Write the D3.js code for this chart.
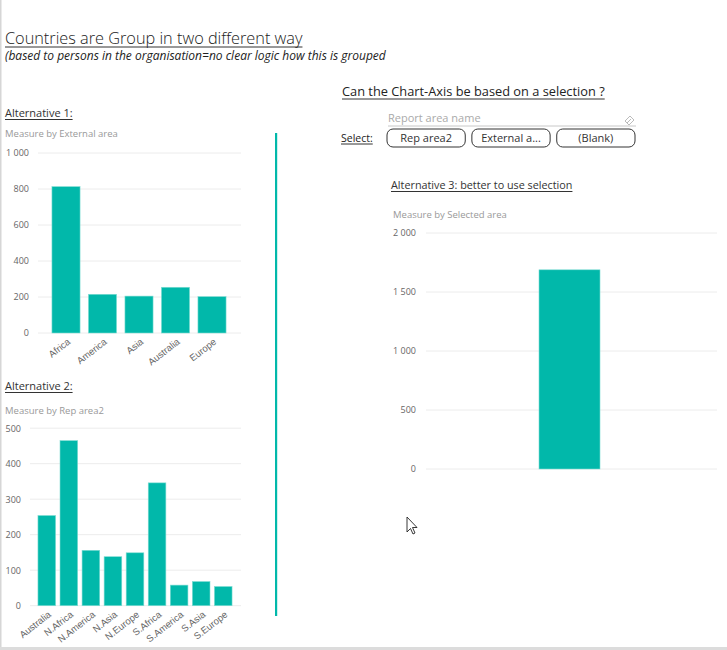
<!DOCTYPE html>
<html><head><meta charset="utf-8">
<script src="https://cdn.jsdelivr.net/npm/d3@7"></script>
<style>
body{margin:0;background:#fff;}
svg{display:block;font-family:"Open Sans","Noto Sans",sans-serif;}
</style></head>
<body><svg id="c" width="727" height="650"></svg>
<script>
// ---- data ----
const extCategories = ["Africa","America","Asia","Australia","Europe"];
const extValues = [813,215,205,254,202];
const extTicks = [0,200,400,600,800,1000];

const repCategories = ["Australia","N.Africa","N.America","N.Asia","N.Europe","S.Africa","S.America","S.Asia","S.Europe"];
const repValues = [254,465,156,138,149,346,58,68,54];
const repTicks = [0,100,200,300,400,500];

const selCategories = ["(Selected)"];
const selValues = [1688];
const selTicks = [0,500,1000,1500,2000];

const slicerButtons = ["Rep area2","External a...","(Blank)"];

// ---- drawing ----
const TEAL = "#01B8AA";
const svg = d3.select("#c");
const loc = d3.formatLocale({decimal:",",thousands:"\u00a0",grouping:[3],currency:["",""]});
const fmt = loc.format(",d");

// frame borders
svg.append("rect").attr("x",0).attr("y",0).attr("width",1.5).attr("height",650).attr("fill","#d6d6d6");
svg.append("rect").attr("x",0).attr("y",647).attr("width",727).attr("height",3).attr("fill","#dcdcdc");

function uText(x,y,txt,size,opts={}){
  const t = svg.append("text").attr("x",x).attr("y",y).text(txt)
    .attr("font-size",size).attr("fill",opts.fill||"#222")
    .style("font-style",opts.italic?"italic":"normal")
    .attr("font-weight",opts.weight||300);
  if(opts.underline){
    const w = t.node().getComputedTextLength();
    svg.append("line").attr("x1",x).attr("x2",x+w).attr("y1",y+opts.uoff).attr("y2",y+opts.uoff)
      .attr("stroke",opts.ucol||"#333").attr("stroke-width",opts.uw||1);
  }
  return t;
}

uText(5,44,"Countries are Group in two different way",16.3,{underline:true,uoff:3,weight:300,fill:"#222"});
uText(5,60,"(based to persons in the organisation=no clear logic how this is grouped",12,{italic:true,weight:400,fill:"#222"});

function barChart(cfg){
  const g = svg.append("g");
  const y = d3.scaleLinear().domain([0,d3.max(cfg.ticks)]).range([cfg.y0,cfg.y1]);
  const x = d3.scaleBand().domain(cfg.cats).range([cfg.bx0,cfg.bx1]).paddingInner(cfg.pi).paddingOuter(cfg.po);
  // gridlines
  g.selectAll("line.grid").data(cfg.ticks).join("line")
    .attr("x1",cfg.gx0).attr("x2",cfg.gx1).attr("y1",d=>y(d)).attr("y2",d=>y(d))
    .attr("stroke","#ececec").attr("stroke-width",1);
  // y labels
  const ya = d3.axisLeft(y).tickValues(cfg.ticks).tickFormat(fmt).tickSize(0).tickPadding(0);
  const yg = g.append("g").attr("transform",`translate(${cfg.lx},0)`).call(ya);
  yg.select(".domain").remove();
  yg.selectAll("text").attr("font-size",cfg.fs).attr("fill","#666").attr("font-family","Open Sans, sans-serif");
  // bars
  g.selectAll("rect.bar").data(cfg.vals).join("rect")
    .attr("x",(d,i)=>x(cfg.cats[i])).attr("width",x.bandwidth())
    .attr("y",d=>y(d)).attr("height",d=>cfg.y0-y(d)).attr("fill",TEAL)
    .attr("stroke","#7fdcd3").attr("stroke-width",0.6);
  // x labels
  if(cfg.showX){
    const xa = d3.axisBottom(x).tickSize(0).tickPadding(0);
    const xg = g.append("g").attr("transform",`translate(0,${cfg.y0})`).call(xa);
    xg.select(".domain").remove();
    xg.selectAll("text").attr("font-size",cfg.xfs).attr("fill","#666")
      .attr("text-anchor","end").attr("dy",0)
      .attr("transform",`translate(${cfg.xo},${cfg.yo}) rotate(-38)`);
  }
  return g;
}

// Alternative 1
uText(5,117,"Alternative 1:",11,{underline:true,uoff:2.5,weight:400,fill:"#333"});
svg.append("text").attr("x",5).attr("y",137).text("Measure by External area").attr("font-size",9.5).attr("fill","#999");
barChart({cats:extCategories,vals:extValues,ticks:extTicks,y0:333,y1:153,bx0:47.75,bx1:230.25,pi:0.23,po:0.115,
  gx0:38,gx1:241,lx:29,fs:9,xfs:9.5,showX:true,xo:5,yo:10});

// Alternative 2
uText(5,390,"Alternative 2:",11,{underline:true,uoff:2.5,weight:400,fill:"#333"});
svg.append("text").attr("x",5).attr("y",414).text("Measure by Rep area2").attr("font-size",9.5).attr("fill","#999");
barChart({cats:repCategories,vals:repValues,ticks:repTicks,y0:605.7,y1:428.2,bx0:35.75,bx1:234.25,pi:0.2,po:0.1,
  gx0:30,gx1:241,lx:21,fs:9,xfs:9.5,showX:true,xo:5,yo:10});

// separator line
svg.append("rect").attr("x",275).attr("y",133).attr("width",2.2).attr("height",483).attr("fill",TEAL);

// Selection header & slicer
uText(342,96,"Can the Chart-Axis be based on a selection ?",12.8,{underline:true,uoff:3,weight:400,fill:"#222"});
svg.append("text").attr("x",388).attr("y",122).text("Report area name").attr("font-size",11).attr("fill","#aaa");
svg.append("line").attr("x1",388).attr("x2",636).attr("y1",126).attr("y2",126).attr("stroke","#c8c8c8");
// eraser icon
svg.append("path").attr("d","M625,121 L630,116 L634,120 L629,125 Z M627,123 L631,119").attr("fill","none").attr("stroke","#aaa").attr("stroke-width",0.8);
uText(341,142,"Select:",10.5,{underline:true,uoff:2,weight:400,fill:"#222"});
const bx = d3.scaleBand().domain(slicerButtons).range([387,635]).paddingInner(0.078);
const btn = svg.append("g").selectAll("g").data(slicerButtons).join("g");
btn.append("rect").attr("x",d=>bx(d)).attr("y",129).attr("width",bx.bandwidth()).attr("height",18)
  .attr("rx",6).attr("fill","#fff").attr("stroke","#333").attr("stroke-width",1);
btn.append("text").attr("x",d=>bx(d)+bx.bandwidth()/2).attr("y",142).attr("text-anchor","middle")
  .text(d=>d).attr("font-size",11).attr("fill","#333");

// Alternative 3
uText(391,189,"Alternative 3: better to use selection",10.8,{underline:true,uoff:2.5,weight:400,fill:"#333"});
svg.append("text").attr("x",393).attr("y",218).text("Measure by Selected area").attr("font-size",9.5).attr("fill","#999");
barChart({cats:selCategories,vals:selValues,ticks:selTicks,y0:469,y1:233,bx0:424,bx1:715,pi:0,po:1.885,
  gx0:426,gx1:717,lx:416,fs:9,showX:false});

// mouse cursor
svg.append("path").attr("d","M407,517 L407,532 L410.5,528.5 L413,534 L415,533 L412.5,527.5 L417,527.5 Z")
  .attr("fill","#fff").attr("stroke","#222").attr("stroke-width",0.9).attr("stroke-linejoin","round");
</script></body></html>
